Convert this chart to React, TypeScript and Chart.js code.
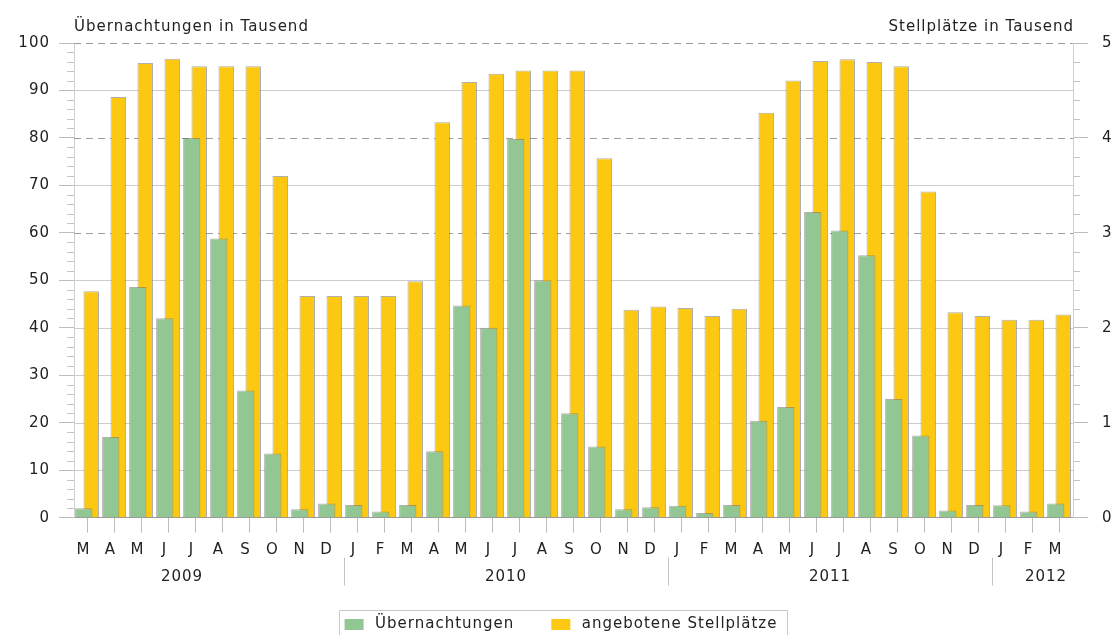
import React, { useEffect, useRef } from "react";
import { Chart, registerables } from "chart.js";

Chart.register(...registerables);

// ---- data ----
const monthLabels = [
  "M", "A", "M", "J", "J", "A", "S", "O", "N", "D",
  "J", "F", "M", "A", "M", "J", "J", "A", "S", "O", "N", "D",
  "J", "F", "M", "A", "M", "J", "J", "A", "S", "O", "N", "D",
  "J", "F", "M",
];
const yearLabels = ["2009", "2010", "2011", "2012"];
// label anchor given as category index (between two months)
const yearLabelAnchors = [3.5, 15.5, 27.5, 35.5];
// year separators between category indices
const yearSeparators = [9.5, 21.5, 33.5];

// Übernachtungen in Tausend (left axis)
const overnightStays = [
  2.0, 17.0, 48.6, 42.0, 80.0, 58.8, 26.8, 13.5, 1.8, 3.0,
  2.7, 1.3, 2.7, 14.0, 44.7, 40.0, 79.8, 50.0, 22.0, 15.0, 1.8, 2.2,
  2.5, 1.0, 2.7, 20.4, 23.3, 64.4, 60.5, 55.3, 25.0, 17.3, 1.5, 2.7,
  2.6, 1.3, 3.0,
];
// angebotene Stellplätze in Tausend (right axis)
const pitchesOffered = [
  2.385, 4.43, 4.79, 4.835, 4.755, 4.755, 4.755, 3.6, 2.335, 2.335,
  2.335, 2.335, 2.49, 4.165, 4.59, 4.675, 4.71, 4.71, 4.71, 3.785, 2.19, 2.225,
  2.21, 2.125, 2.2, 4.265, 4.605, 4.81, 4.83, 4.8, 4.755, 3.435, 2.165, 2.125,
  2.085, 2.085, 2.14,
];

const leftTitle = "Übernachtungen in Tausend";
const rightTitle = "Stellplätze in Tausend";
const seriesNames = ["Übernachtungen", "angebotene Stellplätze"];

const GREEN = "rgb(146,198,146)";
const YELLOW = "rgb(252,200,18)";
const BAR_BORDER = "rgba(110,110,110,0.55)";
const FONT = "'DejaVu Sans', sans-serif";
const TEXT = "#222222";

const decorPlugin = {
  id: "decor",
  beforeUpdate(chart: any) {
    chart.ctx.letterSpacing = "1px";
  },
  beforeDatasetsDraw(chart: any) {
    const { ctx, chartArea: a, scales } = chart;
    const y = scales.y;
    const y1 = scales.y1;
    ctx.save();
    ctx.lineWidth = 1;
    for (let v = 10; v <= 100; v += 10) {
      const py = Math.round(y.getPixelForValue(v)) + 0.5;
      const dashed = v >= 60 && v % 20 === 0;
      ctx.strokeStyle = dashed ? "#9c9c9c" : "#cdcdcd";
      ctx.setLineDash(dashed ? [7, 5] : []);
      ctx.beginPath();
      ctx.moveTo(a.left, py);
      ctx.lineTo(a.right, py);
      ctx.stroke();
    }
    ctx.setLineDash([]);
    ctx.strokeStyle = "#c4c4c4";
    for (let v = 2; v < 100; v += 2) {
      if (v % 10 === 0) continue;
      const py = Math.round(y.getPixelForValue(v)) + 0.5;
      ctx.beginPath();
      ctx.moveTo(a.left - 7, py);
      ctx.lineTo(a.left, py);
      ctx.stroke();
    }
    for (let i = 1; i < 25; i++) {
      if (i % 5 === 0) continue;
      const py = Math.round(y1.getPixelForValue(i / 5)) + 0.5;
      ctx.beginPath();
      ctx.moveTo(a.right, py);
      ctx.lineTo(a.right + 7, py);
      ctx.stroke();
    }
    ctx.restore();
  },
  afterDraw(chart: any) {
    const { ctx, chartArea: a, scales } = chart;
    const x = scales.x;
    const x0 = x.getPixelForValue(0);
    const step = x.getPixelForValue(1) - x0;
    const px = (idx: number) => x0 + idx * step;
    ctx.save();
    ctx.letterSpacing = "1px";
    ctx.font = `15px ${FONT}`;
    ctx.fillStyle = TEXT;
    ctx.textBaseline = "alphabetic";
    ctx.textAlign = "left";
    ctx.fillText(leftTitle, a.left, 31);
    ctx.textAlign = "right";
    ctx.fillText(rightTitle, a.right + 1, 31);

    // year labels
    ctx.textAlign = "center";
    ctx.textBaseline = "middle";
    yearLabels.forEach((lbl, i) => {
      ctx.fillText(lbl, px(yearLabelAnchors[i]), a.bottom + 59);
    });
    // separators
    ctx.strokeStyle = "#c4c4c4";
    ctx.lineWidth = 1;
    yearSeparators.forEach((s) => {
      const sx = Math.round(px(s)) + 0.5;
      ctx.beginPath();
      ctx.moveTo(sx, a.bottom + 40);
      ctx.lineTo(sx, a.bottom + 68);
      ctx.stroke();
    });

    // legend frame
    const lg = chart.legend;
    if (lg && lg.legendHitBoxes && lg.legendHitBoxes.length) {
      const hb = lg.legendHitBoxes;
      const first = hb[0];
      const last = hb[hb.length - 1];
      const l = Math.round(first.left - 2) + 0.5;
      const r = Math.round(last.left + last.width + 10) + 0.5;
      const t = Math.round(first.top - 5) + 0.5;
      ctx.strokeStyle = "#c8c8c8";
      ctx.beginPath();
      ctx.moveTo(l, chart.height + 5);
      ctx.lineTo(l, t);
      ctx.lineTo(r, t);
      ctx.lineTo(r, chart.height + 5);
      ctx.stroke();
    }
    ctx.restore();
  },
};

export default function App() {
  const canvasRef = useRef<HTMLCanvasElement | null>(null);

  useEffect(() => {
    const canvas = canvasRef.current;
    if (!canvas) return;
    const chart = new Chart(canvas, {
      type: "bar",
      data: {
        labels: monthLabels,
        datasets: [
          {
            label: seriesNames[0],
            data: overnightStays,
            yAxisID: "y",
            backgroundColor: GREEN,
            borderColor: BAR_BORDER,
            borderWidth: 1,
            categoryPercentage: 0.556,
            barPercentage: 2.3,
          },
          {
            label: seriesNames[1],
            data: pitchesOffered,
            yAxisID: "y1",
            backgroundColor: YELLOW,
            borderColor: BAR_BORDER,
            borderWidth: 1,
            categoryPercentage: 0.556,
            barPercentage: 2.07,
          },
        ],
      },
      options: {
        responsive: false,
        animation: false,
        devicePixelRatio: 1,
        layout: { padding: { top: 43, left: 0, right: 0, bottom: -9 } },
        plugins: {
          tooltip: { enabled: false },
          legend: {
            position: "bottom",
            labels: {
              boxWidth: 27,
              boxHeight: 19,
              padding: 33,
              color: TEXT,
              font: { family: FONT, size: 15 },
              generateLabels: (ch: any) => {
                const items = Chart.defaults.plugins.legend.labels.generateLabels(ch);
                // white outline trims the swatch to 19x11 and widens the gap to the text
                return items.map((it: any) => ({ ...it, lineWidth: 8, strokeStyle: "#ffffff" }));
              },
            },
          },
        },
        scales: {
          x: {
            type: "category",
            offset: true,
            grid: {
              display: true,
              drawOnChartArea: false,
              drawTicks: true,
              offset: false,
              tickLength: 15,
              tickColor: "#bdbdbd",
            },
            border: { display: true, color: "#9a9a9a" },
            ticks: {
              color: TEXT,
              font: { family: FONT, size: 15 },
              padding: 8,
              labelOffset: -4,
              maxRotation: 0,
              autoSkip: false,
            },
            afterFit: (s: any) => {
              s.height = 64.3;
            },
          },
          y: {
            position: "left",
            min: 0,
            max: 100,
            ticks: {
              stepSize: 10,
              color: TEXT,
              font: { family: FONT, size: 15 },
              padding: 9,
            },
            grid: {
              drawOnChartArea: false,
              drawTicks: true,
              tickLength: 15,
              tickColor: "#bdbdbd",
            },
            border: { display: true, color: "#cfcfcf" },
            afterFit: (s: any) => {
              s.width = 74;
            },
          },
          y1: {
            position: "right",
            min: 0,
            max: 5,
            ticks: {
              stepSize: 1,
              color: TEXT,
              font: { family: FONT, size: 15 },
              padding: 14,
            },
            grid: {
              drawOnChartArea: false,
              drawTicks: true,
              tickLength: 15,
              tickColor: "#bdbdbd",
            },
            border: { display: true, color: "#cfcfcf" },
            afterFit: (s: any) => {
              s.width = 45;
            },
          },
        },
      },
      plugins: [decorPlugin],
    } as any);
    return () => chart.destroy();
  }, []);

  return (
    <div style={{ position: "fixed", left: 0, top: 0, width: 1118, height: 635, background: "#fff" }}>
      <canvas ref={canvasRef} width={1118} height={635} style={{ display: "block" }} />
    </div>
  );
}
